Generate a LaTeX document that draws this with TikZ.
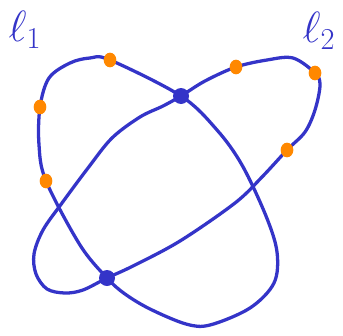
\documentclass[tikz,border=0pt]{standalone}
\usepackage{amsmath,amssymb}
\usetikzlibrary{positioning,shapes.geometric}

\begin{document}
\begin{tikzpicture}[x=0.03cm,y=-0.03cm]
\tikzset{
  curveline/.style={line width=2.8pt,draw=curveblue,line cap=round,line join=round},
  meetpoint/.style={circle,fill=curveblue,inner sep=0pt,minimum size=4.8mm},
  markdot/.style={ellipse,fill=dotorange,inner sep=0pt,minimum width=3.8mm,minimum height=4.4mm},
  curvelabel/.style={text=curveblue,font=\fontsize{24}{26}\selectfont,scale=1.5,inner sep=0pt}
}
\definecolor{curveblue}{RGB}{52,52,200}
\definecolor{dotorange}{RGB}{255,136,0}
\useasboundingbox (0,0) rectangle (343,335);
% points shared by both curves
\coordinate (m_top) at (181,96);
\coordinate (m_low) at (107,278);
% points on the first curve
\coordinate (a_1) at (110,60);
\coordinate (a_2) at (40,107);
\coordinate (a_3) at (46,181);
% points on the second curve
\coordinate (b_1) at (236,67);
\coordinate (b_2) at (315,73);
\coordinate (b_3) at (287,150);
\draw[curveline] plot[smooth cycle,tension=0.55] coordinates {
  (a_1) (m_top) (217,130) (242,165) (266,216) (277,252) (274,283)
  (250,308) (210,325) (186,324) (150,309) (125,294) (m_low) (80,245)
  (a_3) (39,145) (a_2) (49,78) (70,63) (90,58)};
\draw[curveline] plot[smooth cycle,tension=0.55] coordinates {
  (m_top) (205,81) (b_1) (267,60) (293,58) (b_2) (320,85) (315,110)
  (305,132) (b_3) (262,177) (235,203) (180,241) (133,266) (m_low)
  (83,290) (65,293) (47,289) (36,274) (34,254) (43,230) (62,203)
  (88,168) (112,138) (140,117) (163,106)};
\node[meetpoint] (p_top) at (m_top) {};
\node[meetpoint] (p_low) at (m_low) {};
\foreach \d in {a_1,a_2,a_3,b_1,b_2,b_3}
  \node[markdot] (dot_\d) at (\d) {};
\node[curvelabel] (l_one) at (25,30) {$\ell_1$};
\node[curvelabel] (l_two) at (319,31) {$\ell_2$};
\end{tikzpicture}
\end{document}
